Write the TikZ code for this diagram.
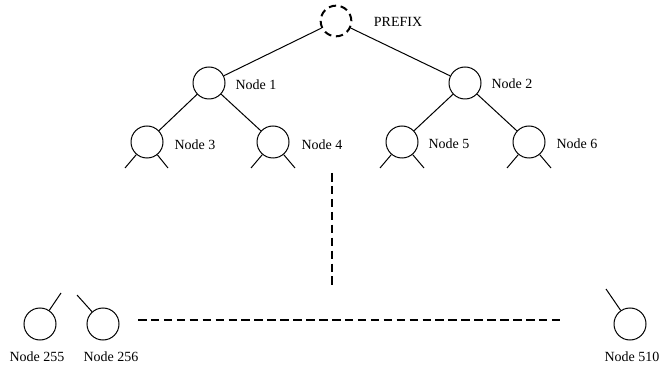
\documentclass[tikz,border=0pt]{standalone}
\usepackage{fontspec}
\setmainfont{Liberation Serif}

\tikzset{every picture/.style={line width=0.75pt}}
\tikzset{
  tnode/.style={draw,circle,inner sep=0pt,minimum size=24pt},
  rootnode/.style={draw,circle,inner sep=0pt,minimum size=23pt,line width=1.5pt,dash pattern=on 5.5pt off 3.5pt},
  lbl/.style={inner sep=0pt,font=\fontsize{10.5}{12}\selectfont},
  gapline/.style={line width=1.5pt,dash pattern=on 6.4pt off 3.3pt}
}

\begin{document}
\begin{tikzpicture}[x=0.75pt,y=0.75pt,yscale=-1,xscale=1]
\useasboundingbox (0,0) rectangle (659,366);

%Shape: Circle
\node [rootnode] (root) at (336,21) {};
%Shape: Circle
\node [tnode] (n1) at (209,83) {};
\node [tnode] (n2) at (465,83) {};
\node [tnode] (n3) at (147,142) {};
\node [tnode] (n4) at (273,142) {};
\node [tnode] (n5) at (402,142) {};
\node [tnode] (n6) at (529,142) {};
%Shape: Circle
\node [tnode] (n255) at (40,324) {};
\node [tnode] (n256) at (103,324) {};
\node [tnode] (n510) at (630,324) {};

% free ends of the branches
\coordinate (s3a) at (125,168);
\coordinate (s3b) at (168,168);
\coordinate (s4a) at (251,168);
\coordinate (s4b) at (295,168);
\coordinate (s5a) at (380,168);
\coordinate (s5b) at (424,168);
\coordinate (s6a) at (507,168);
\coordinate (s6b) at (551,168);
\coordinate (s255) at (61,293);
\coordinate (s256) at (77,295);
\coordinate (s510) at (606,289);
\coordinate (vtop) at (332,173);
\coordinate (vbot) at (332,288);
\coordinate (hl) at (138,320);
\coordinate (hr) at (562,320);

%Straight Lines
\draw (root) -- (n1);
\draw (root) -- (n2);
\draw (n1) -- (n3);
\draw (n1) -- (n4);
\draw (n2) -- (n5);
\draw (n2) -- (n6);
%Straight Lines
\draw (n3) -- (s3a);
\draw (n3) -- (s3b);
\draw (n4) -- (s4a);
\draw (n4) -- (s4b);
\draw (n5) -- (s5a);
\draw (n5) -- (s5b);
\draw (n6) -- (s6a);
\draw (n6) -- (s6b);
\draw (n255) -- (s255);
\draw (n256) -- (s256);
\draw (n510) -- (s510);
%Dashed Lines
\draw [gapline] (vtop) -- (vbot);
\draw [gapline] (hl) -- (hr);

% Text Node
\node [lbl] (troot) at (398,22) {PREFIX};
% Text Node
\node [lbl] (t1) at (256,85) {Node 1};
\node [lbl] (t2) at (512,84) {Node 2};
\node [lbl] (t3) at (195,145) {Node 3};
\node [lbl] (t4) at (322,145) {Node 4};
\node [lbl] (t5) at (449,144) {Node 5};
\node [lbl] (t6) at (577,144) {Node 6};
% Text Node
\node [lbl] (t255) at (37,357) {Node 255};
\node [lbl] (t256) at (111,357) {Node 256};
\node [lbl] (t510) at (632,357) {Node 510};

\end{tikzpicture}
\end{document}
